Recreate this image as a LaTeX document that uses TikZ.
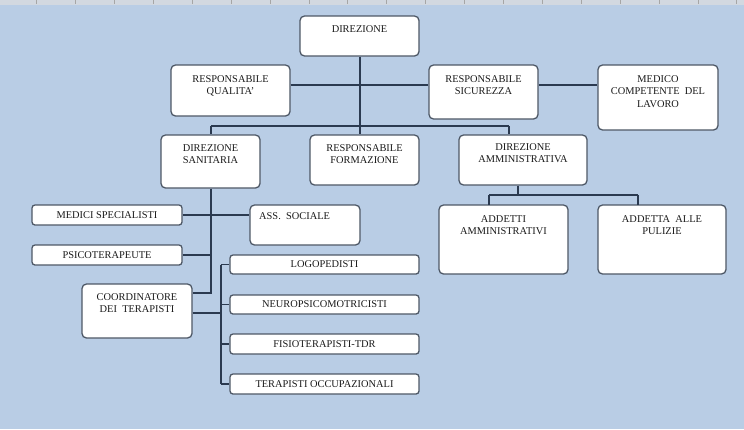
\documentclass[tikz,border=0pt]{standalone}
\usepackage{fontspec}
\setmainfont{Liberation Serif}
\definecolor{bgblue}{HTML}{B9CDE5}
\definecolor{strip}{HTML}{D2D8E0}
\definecolor{boxline}{HTML}{4E5866}
\definecolor{conn}{HTML}{2B3A50}
\definecolor{txt}{HTML}{1A1A1A}
\tikzset{
  obox/.style={draw=boxline, fill=white, rounded corners=4.5pt, line width=1.3pt, inner sep=0pt},
  tbox/.style={draw=boxline, fill=white, rounded corners=3pt, line width=1.3pt, inner sep=0pt},
  lab/.style={font=\fontsize{10.4}{12.5}\selectfont, text=txt, align=center, inner sep=0pt},
  con/.style={draw=conn, line width=1.1pt},
}
\newcommand\mkbox[6]{% style, name, x1, y1, x2, y2
  \node[#1, minimum width={(#5-#3)*1pt}, minimum height={(#6-#4)*1pt}] (#2) at ({(#3+#5)/2},{(#4+#6)/2}) {};}
\begin{document}
\begin{tikzpicture}[x=1pt,y=-1pt]
\useasboundingbox (0,0) rectangle (744,429);
\fill[bgblue] (0,0) rectangle (744,429);
\fill[strip] (0,0) rectangle (744,5);
\foreach \i in {0,...,18} {\draw[gray!70, line width=0.6pt] ({36.5+38.9*\i},0) -- ({36.5+38.9*\i},4);}

% boxes
\mkbox{obox}{dir}{300}{16}{419}{56}
\mkbox{obox}{qual}{171}{65}{290}{116}
\mkbox{obox}{sic}{429}{65}{538}{119}
\mkbox{obox}{med}{598}{65}{718}{130}
\mkbox{obox}{san}{161}{135}{260}{188}
\mkbox{obox}{form}{310}{135}{419}{185}
\mkbox{obox}{amm}{459}{135}{587}{185}
\mkbox{obox}{add}{439}{205}{568}{274}
\mkbox{obox}{pul}{598}{205}{726}{274}
\mkbox{tbox}{medici}{32}{205}{182}{225}
\mkbox{obox}{ass}{250}{205}{360}{245}
\mkbox{tbox}{psico}{32}{245}{182}{265}
\mkbox{obox}{coord}{82}{284}{192}{338}
\mkbox{tbox}{logo}{230}{255}{419}{274}
\mkbox{tbox}{neuro}{230}{295}{419}{314}
\mkbox{tbox}{fisio}{230}{334}{419}{354}
\mkbox{tbox}{occ}{230}{374}{419}{394}

% texts
\node[lab, anchor=north] (tdir) at (359.5,25) {DIREZIONE};
\node[lab, anchor=north] (tqual) at (230.5,75) {RESPONSABILE\\QUALITA'};
\node[lab, anchor=north] (tsic) at (483.5,75) {RESPONSABILE\\SICUREZZA};
\node[lab, anchor=north] (tmed) at (658,75) {MEDICO\\COMPETENTE~~DEL\\LAVORO};
\node[lab, anchor=north] (tsan) at (210.5,144) {DIREZIONE\\SANITARIA};
\node[lab, anchor=north] (tform) at (364.5,144) {RESPONSABILE\\FORMAZIONE};
\node[lab, anchor=north] (tamm) at (523,143) {DIREZIONE\\AMMINISTRATIVA};
\node[lab, anchor=north] (tadd) at (503.5,215) {ADDETTI\\AMMINISTRATIVI};
\node[lab, anchor=north] (tpul) at (662,215) {ADDETTA~~ALLE\\PULIZIE};
\node[lab] (tmedici) at (medici.center) {MEDICI SPECIALISTI};
\node[lab, anchor=west] (tass) at (259,216) {ASS.~~SOCIALE};
\node[lab] (tpsico) at (psico.center) {PSICOTERAPEUTE};
\node[lab, anchor=north] (tcoord) at (137,293) {COORDINATORE\\DEI~~TERAPISTI};
\node[lab] (tlogo) at (logo.center) {LOGOPEDISTI};
\node[lab] (tneuro) at (neuro.center) {NEUROPSICOMOTRICISTI};
\node[lab] (tfisio) at (fisio.center) {FISIOTERAPISTI-TDR};
\node[lab] (tocc) at (occ.center) {TERAPISTI OCCUPAZIONALI};

% connector coordinates
\coordinate (hline) at (360,85);
\coordinate (barL) at (211,126);
\coordinate (barM) at (360,126);
\coordinate (barR) at (509,126);
\coordinate (ammB) at (518,195);
\coordinate (addT) at (489,205);
\coordinate (pulT) at (638,205);
\coordinate (sanJ) at (211,293);
\coordinate (sanP) at (211,255);
\coordinate (brT) at (221,264.5);
\coordinate (brB) at (221,384);
\coordinate (brC) at (221,313);

% connectors
\draw[con] (dir.south -| barM) -- (form.north -| barM);
\draw[con] (barL) -- (barR);
\draw[con] (barL) -- (san.north -| barL);
\draw[con] (barR) -- (amm.north -| barR);
\draw[con] (qual.east |- hline) -- (sic.west |- hline);
\draw[con] (sic.east |- hline) -- (med.west |- hline);
\draw[con] (amm.south -| ammB) -- (ammB);
\draw[con] (addT |- ammB) -- (pulT |- ammB);
\draw[con] (addT |- ammB) -- (addT);
\draw[con] (pulT |- ammB) -- (pulT);
\draw[con] (san.south -| sanJ) -- (sanJ) -- (coord.east |- sanJ);
\draw[con] (medici.east) -- (ass.west |- medici.east);
\draw[con] (psico.east) -- (sanP);
\draw[con] (coord.east |- brC) -- (brC);
\draw[con] (brT) -- (brB);
\draw[con] (brT) -- (logo.west);
\draw[con] (brC |- neuro.west) -- (neuro.west);
\draw[con] (brC |- fisio.west) -- (fisio.west);
\draw[con] (brB) -- (occ.west);
\end{tikzpicture}
\end{document}
